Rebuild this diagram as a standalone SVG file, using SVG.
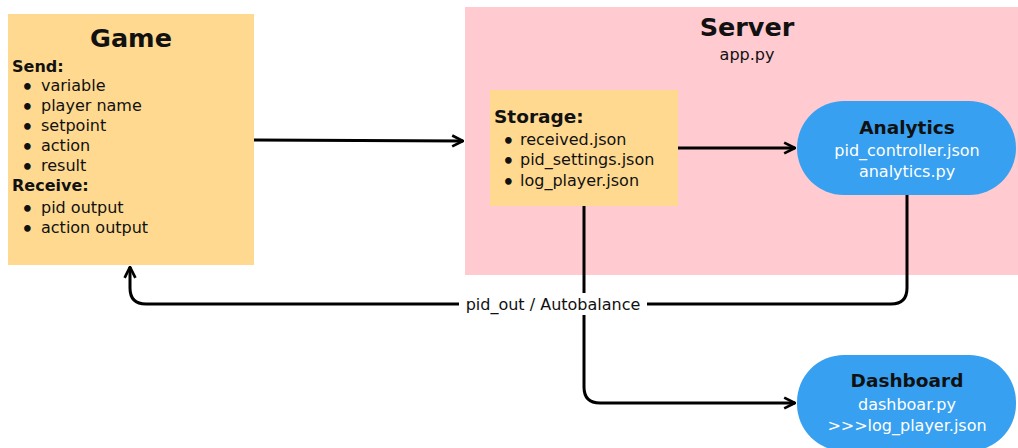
<svg xmlns="http://www.w3.org/2000/svg" width="1018" height="448" viewBox="0 0 1018 448">
<style>
text{font-family:"DejaVu Sans","Open Sans",sans-serif;fill:#111}
.t{font-size:25.5px;font-weight:bold}
.h{font-size:18.5px;font-weight:bold}
.b{font-size:16px}
.w{fill:#fff;font-size:16px}
.c{text-anchor:middle}
.d{font-family:"Lato",sans-serif;font-size:15px;font-weight:bold}
.ln{fill:none;stroke:#000;stroke-width:3}
</style>
<defs>
<marker id="ah" viewBox="0 0 10 10" refX="9" refY="5" markerWidth="4.5" markerHeight="4.5" orient="auto" markerUnits="strokeWidth">
<path d="M1,1 L9,5 L1,9" fill="none" stroke="#000" stroke-width="2"/>
</marker>
</defs>
<rect width="1018" height="448" fill="#fff"/>
<g id="server">
<rect x="465" y="7" width="553" height="268" fill="#FFCAD0"/>
<text class="t c" x="747" y="36">Server</text>
<text class="b c" x="747" y="60">app.py</text>
</g>
<g id="game">
<rect x="8" y="14" width="246" height="251" fill="#FFD990"/>
<text class="t c" x="131" y="47">Game</text>
<text class="b" x="12" y="72" font-weight="bold">Send:</text>
<text class="d" x="23" y="91">•</text><text class="b" x="41" y="91">variable</text>
<text class="d" x="23" y="111">•</text><text class="b" x="41" y="111">player name</text>
<text class="d" x="23" y="131">•</text><text class="b" x="41" y="131">setpoint</text>
<text class="d" x="23" y="151">•</text><text class="b" x="41" y="151">action</text>
<text class="d" x="23" y="171">•</text><text class="b" x="41" y="171">result</text>
<text class="b" x="12" y="191" font-weight="bold">Receive:</text>
<text class="d" x="23" y="213">•</text><text class="b" x="41" y="213">pid output</text>
<text class="d" x="23" y="233">•</text><text class="b" x="41" y="233">action output</text>
</g>
<g id="storage">
<rect x="490" y="90" width="188" height="116" fill="#FFD990"/>
<text class="h" x="494" y="123">Storage:</text>
<text class="d" x="504" y="145">•</text><text class="b" x="520" y="145">received.json</text>
<text class="d" x="504" y="165">•</text><text class="b" x="520" y="165">pid_settings.json</text>
<text class="d" x="504" y="186">•</text><text class="b" x="520" y="186">log_player.json</text>
</g>
<g id="analytics">
<rect x="797" y="101" width="219" height="94" rx="47" fill="#37A0F0"/>
<text class="h c" x="907" y="134">Analytics</text>
<text class="w c" x="907" y="156">pid_controller.json</text>
<text class="w c" x="907" y="177">analytics.py</text>
</g>
<g id="dashboard">
<rect x="797" y="355" width="219" height="96" rx="47" fill="#37A0F0"/>
<text class="h c" x="907" y="387">Dashboard</text>
<text class="w c" x="907" y="410">dashboar.py</text>
<text class="w c" x="907" y="431">&gt;&gt;&gt;log_player.json</text>
</g>
<g id="connectors">
<path class="ln" d="M254,140 L463,141" marker-end="url(#ah)"/>
<path class="ln" d="M678,148 L795,148" marker-end="url(#ah)"/>
<path class="ln" d="M907,195 L907,288 Q907,304 891,304 L146,304 Q130,304 130,288 L130,267" marker-end="url(#ah)"/>
<path class="ln" d="M584,206 L584,387 Q584,403 600,403 L795,403" marker-end="url(#ah)"/>
<rect x="459" y="293" width="188" height="22" fill="#fff"/>
<text x="553" y="310" class="c" font-size="16">pid_out / Autobalance</text>
</g>
</svg>
